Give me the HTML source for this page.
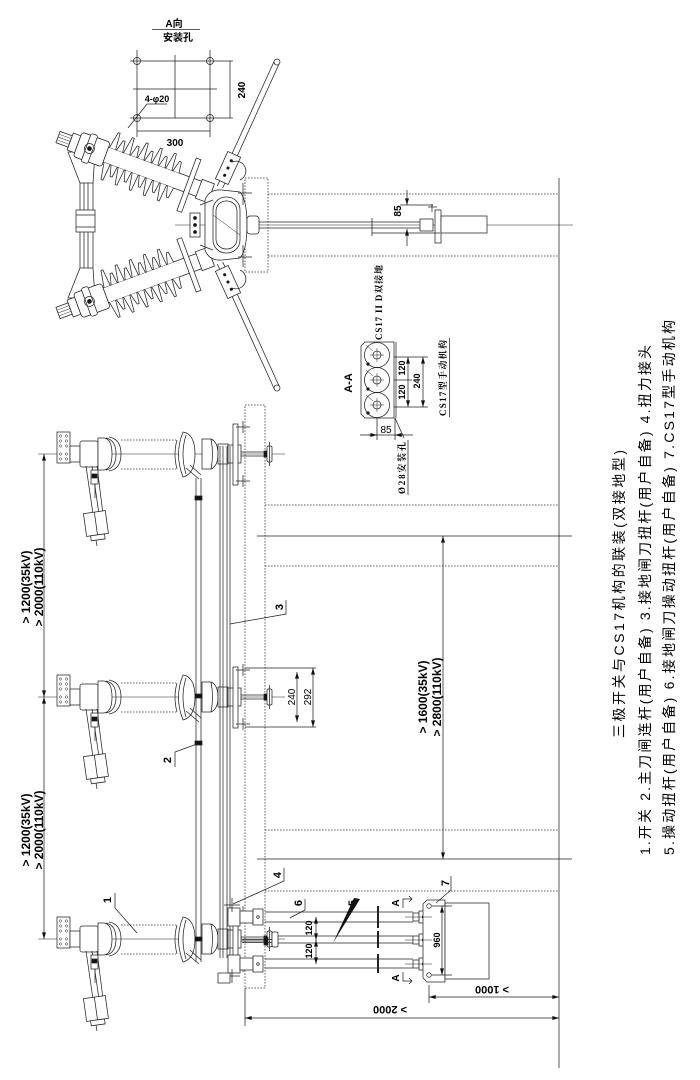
<!DOCTYPE html>
<html><head><meta charset="utf-8">
<style>
html,body{margin:0;padding:0;background:#fff;}
svg{display:block;}
text{font-family:"Liberation Sans","Noto Sans CJK SC",sans-serif;fill:#000;stroke:none;}
.d{stroke-dasharray:1.6 1.4;stroke:#333;}
.f{fill:#fff;}
.k{fill:#111;}
.b{font-weight:bold;}
.sr{font-family:"Liberation Serif","Noto Serif CJK SC",serif;}
</style></head><body>
<svg width="700" height="1080" viewBox="0 0 700 1080" xmlns="http://www.w3.org/2000/svg">
<defs>
<marker id="a" viewBox="0 0 10 6" refX="10" refY="3" markerUnits="userSpaceOnUse" markerWidth="7" markerHeight="4" orient="auto-start-reverse"><path d="M0,0L10,3L0,6z" fill="#111" stroke="none"/></marker>

<g id="pole">
 <line x1="38" y1="0" x2="285" y2="0" stroke-width=".6"/>
 <rect class="f" x="57" y="-22" width="13" height="31"/>
 <g stroke-width=".5">
  <circle cx="60.5" cy="-18" r="1.2"/><circle cx="66.5" cy="-18" r="1.2"/>
  <circle cx="60.5" cy="-13" r="1.2"/><circle cx="66.5" cy="-13" r="1.2"/>
  <circle cx="60.5" cy="-8" r="1.2"/><circle cx="66.5" cy="-8" r="1.2"/>
  <circle cx="60.5" cy="0" r="1.2"/><circle cx="66.5" cy="0" r="1.2"/>
  <circle cx="60.5" cy="5" r="1.2"/><circle cx="66.5" cy="5" r="1.2"/>
 </g>
 <rect class="f" x="70" y="-8" width="10" height="16"/>
 <rect class="f" x="80" y="-13" width="18" height="26" rx="2"/>
 <path class="f" d="M98,-16 L104,-16 Q112,-15 112,0 Q112,15 104,16 L98,16 Z"/>
 <path d="M106,-16 Q116,-14 116,0 Q116,14 106,16"/>
 <path d="M109,-17 Q121,-15 121,0 Q121,15 109,17"/>
 <line class="d" x1="121" y1="-14" x2="176" y2="-14"/>
 <line class="d" x1="121" y1="15" x2="176" y2="15"/>
 <path class="f" d="M183,-22 Q174,0 183,23 Q195,20 195,0 Q195,-20 183,-22 Z"/>
 <path d="M177,-14 Q173,0 177,15"/>
 <path d="M186,-19 Q180,0 186,20"/>
 <path class="f" d="M202,-15 L211,-15 Q218,-12 218,0 Q218,12 211,15 L202,15 Z"/>
 <path d="M211,-15 Q214,0 211,15"/>
 <rect class="f" x="218" y="-10" width="10" height="20"/>
 <rect class="f" x="228" y="-9" width="13" height="18"/>
 <rect class="f" x="233" y="-30" width="5" height="61"/>
 <path d="M236,-27H250M243,-33V-21M236,27H250M243,21V33"/>
 <path d="M241,-2H266M241,2H266"/>
 <rect class="k" x="264" y="-3" width="3" height="6"/>
 <rect class="f" x="267" y="-8" width="5" height="16" rx="1.5"/>
 <path d="M269.5,-12V12"/>
 <path d="M86,12 L93,60 M92,12 L99,60 M97,12 L103,60"/>
 <rect class="f" x="91" y="16" width="7" height="14"/>
 <rect class="k" x="92" y="20" width="5" height="4"/>
 <path d="M95,30 V44"/>
 <g transform="rotate(-8 96 70)"><rect class="f" x="85" y="58" width="22" height="23"/><path d="M96,58V81"/><rect class="f" x="89" y="81" width="14" height="5"/></g>
 <path d="M96,86 L97,92"/>
 <path d="M186,14 L199,25 M190,11 L201,21"/>
</g>

<g id="ins">
 <rect class="f" x="0" y="-6" width="13" height="12"/>
 <path d="M0,-3H13M0,0H13M0,3H13" stroke-width=".5"/>
 <rect class="f" x="13" y="-9" width="8" height="18"/>
 <rect class="f" x="21" y="-13" width="30" height="26" rx="3"/>
 <rect class="f" x="30" y="-15" width="7" height="30" rx="2"/>
 <circle cx="33.5" cy="0" r="5"/>
 <circle class="k" cx="33.5" cy="0" r="2"/>
 <rect class="f" x="51" y="-8" width="112" height="16"/>
 <polyline class="f" points="52,-8 55,-25 57,-25 58.5,-8 59.5,-8 62.5,-19 64.5,-19 66,-8 67,-8 70,-25 72,-25 73.5,-8 74.5,-8 77.5,-19 79.5,-19 81,-8 82,-8 85,-25 87,-25 88.5,-8 89.5,-8 92.5,-19 94.5,-19 96,-8 97,-8 100,-25 102,-25 103.5,-8 104.5,-8 107.5,-19 109.5,-19 111,-8 112,-8 115,-25 117,-25 118.5,-8 119.5,-8 122.5,-19 124.5,-19 126,-8"/>
 <polyline class="f" points="52,8 55,25 57,25 58.5,8 59.5,8 62.5,19 64.5,19 66,8 67,8 70,25 72,25 73.5,8 74.5,8 77.5,19 79.5,19 81,8 82,8 85,25 87,25 88.5,8 89.5,8 92.5,19 94.5,19 96,8 97,8 100,25 102,25 103.5,8 104.5,8 107.5,19 109.5,19 111,8 112,8 115,25 117,25 118.5,8 119.5,8 122.5,19 124.5,19 126,8"/>
 <rect class="f" x="137" y="-28" width="5" height="56"/>
 <rect class="f" x="150" y="-10" width="13" height="20"/>
</g>
</defs>

<g fill="none" stroke="#222" stroke-width="0.75">

<!-- ===== A向 安装孔 ===== -->
<text x="174" y="27" font-size="10" class="b" text-anchor="middle">A向</text>
<line x1="152" y1="29.5" x2="200" y2="29.5"/>
<text x="178" y="41" font-size="10" class="b" text-anchor="middle">安装孔</text>
<path d="M137,50V137M210,50V137M175,55V118M130,61H233M133,89H217M130,118H233M230,61V118M137,131H210"/>
<circle cx="137" cy="61" r="3.5"/><circle cx="210" cy="61" r="3.5"/>
<circle cx="137" cy="118" r="3.5"/><circle cx="210" cy="118" r="3.5"/>
<text transform="translate(245,90) rotate(-90)" font-size="10" class="b" text-anchor="middle">240</text>
<text x="175" y="146" font-size="10" class="b" text-anchor="middle">300</text>
<text x="157" y="102" font-size="9" class="b" text-anchor="middle">4-φ20</text>
<path d="M147,104H167M147,104L128,128"/>

<!-- ===== top view ===== -->
<line x1="175" y1="225" x2="573" y2="225" stroke-width=".6"/>
<rect class="d" x="245" y="178" width="23" height="94"/>
<path class="d" d="M268,194H559M268,256H559"/>

<path d="M84,160V290M88,160V290"/>
<polygon class="f" points="68,152 95,152 93,183 80,183"/>
<path d="M80,183V210M93,183V210M80,232V268M93,232V268"/>
<rect class="f" x="76" y="210" width="19" height="22"/>
<path d="M76,215H95M76,227H95"/>
<polygon class="f" points="80,268 93,268 95,298 68,298"/>

<use href="#ins" transform="translate(58,137) rotate(20.2)"/>
<use href="#ins" transform="translate(58,313) rotate(-20.2)"/>

<path d="M222.7,188 L279.5,63 M217.3,186 L274.3,61"/>
<path d="M222.7,262 L279.5,387 M217.3,264 L274.3,389"/>
<circle class="f" cx="277" cy="62" r="3"/><circle class="f" cx="277" cy="388" r="3"/>
<g transform="rotate(-65.5 228 168)"><rect class="f" x="213" y="161" width="30" height="14"/><circle class="k" cx="220" cy="168" r="1.2"/><circle class="k" cx="228" cy="168" r="1.2"/><circle class="k" cx="236" cy="168" r="1.2"/></g>
<g transform="rotate(65.5 228 282)"><rect class="f" x="213" y="275" width="30" height="14"/><circle class="k" cx="220" cy="282" r="1.2"/><circle class="k" cx="228" cy="282" r="1.2"/><circle class="k" cx="236" cy="282" r="1.2"/></g>
<path d="M232,162 A9,9 0 0 1 240,180"/>
<path d="M232,288 A9,9 0 0 0 240,270"/>

<path class="f" d="M205,200 Q209,189 222,190 L240,192 Q247,200 247,225 Q247,250 240,258 L222,260 Q209,261 205,250 Z"/>
<rect class="f" x="213" y="197" width="27" height="56" rx="13"/>
<rect x="216" y="201" width="21" height="48" rx="10"/>
<path d="M213,215L240,235" stroke-width=".5"/>
<rect class="f" x="190" y="213" width="10" height="24"/>
<circle class="k" cx="195" cy="218" r="1.5"/><circle class="k" cx="195" cy="225" r="1.5"/><circle class="k" cx="195" cy="232" r="1.5"/>
<path d="M200,205L213,200M200,245L213,250"/>
<path d="M243,183V205M243,245V267M238,193H252M238,257H252"/>
<rect class="f" x="247" y="216" width="12" height="18" rx="3"/>
<path d="M259,222H420M259,228H420"/>
<rect class="f" x="420" y="219" width="13" height="12"/>
<rect class="f" x="435" y="210" width="6" height="33"/>
<rect class="f" x="441" y="216" width="46" height="17"/>
<path d="M372,218V236M372,233H440M432,204V212M428,207H437"/>
<path d="M407,190V205" marker-end="url(#a)"/>
<path d="M407,246V229" marker-end="url(#a)"/>
<path d="M400,205H433"/>
<text transform="translate(401,211) rotate(-90)" font-size="10" class="b" text-anchor="middle">85</text>

<!-- ===== A-A section ===== -->
<text transform="translate(352,383) rotate(-90)" font-size="11" class="b" text-anchor="middle">A-A</text>
<path class="f" d="M365,342 H394 V418 H365 L361,414 V346 Z"/>
<circle cx="377" cy="355" r="12.5"/><circle cx="377" cy="380" r="12.5"/><circle cx="377" cy="405" r="12.5"/>
<circle class="f" cx="377" cy="355" r="4"/><circle class="f" cx="377" cy="380" r="4"/><circle class="f" cx="377" cy="405" r="4"/>
<path d="M370,355H384M377,348V362M370,380H384M377,373V387M370,405H384M377,398V412" stroke-width=".5"/>
<circle class="k" cx="368" cy="364" r="1.3"/><circle class="k" cx="368" cy="389" r="1.3"/><circle class="k" cx="368" cy="413" r="1.3"/>
<path d="M366,345L373,351M366,370L373,376M366,395L373,401" stroke-width=".5"/>
<path d="M396,342V418M394,357H428M394,380H412M394,407H428"/>
<path d="M408,380V357" marker-end="url(#a)"/>
<path d="M408,380V407" marker-end="url(#a)"/>
<path d="M423,357V407" marker-start="url(#a)" marker-end="url(#a)"/>
<text transform="translate(405,368) rotate(-90)" font-size="9" class="b" text-anchor="middle">120</text>
<text transform="translate(405,392) rotate(-90)" font-size="9" class="b" text-anchor="middle">120</text>
<text transform="translate(420,381) rotate(-90)" font-size="9" class="b" text-anchor="middle">240</text>
<text class="sr b" transform="translate(446,416) rotate(-90)" font-size="9" textLength="76" lengthAdjust="spacing">CS17型手动机构</text>
<line x1="449.5" y1="338" x2="449.5" y2="417"/>
<text class="sr b" transform="translate(382,340) rotate(-90)" font-size="9" textLength="75" lengthAdjust="spacing">CS17 II D双接地</text>
<path d="M377,418V440M395,418V440M360,435H413"/>
<path d="M368,435H377" marker-end="url(#a)"/>
<path d="M404,435H395" marker-end="url(#a)"/>
<text x="386" y="433" font-size="10" text-anchor="middle">85</text>
<path d="M395,418L404,438"/>
<text class="sr b" transform="translate(405,494) rotate(-90)" font-size="9" textLength="52" lengthAdjust="spacing">Ø28安装孔</text>
<line x1="408" y1="440" x2="408" y2="495"/>

<!-- ===== side view ===== -->
<line x1="559" y1="178" x2="559" y2="1068"/>
<rect class="d" x="245" y="405" width="20" height="583"/>
<path class="d" d="M265,505H559M265,566H559M265,830H559M265,891H559"/>
<path d="M257,536H572M257,859H572"/>

<use href="#pole" transform="translate(0,454)"/>
<use href="#pole" transform="translate(0,697)"/>
<use href="#pole" transform="translate(0,939)"/>

<path d="M196,478V962M201,478V962"/>
<rect class="k" x="195" y="496" width="7" height="4"/>
<rect class="k" x="195" y="694" width="7" height="4"/>
<rect class="k" x="195" y="741" width="7" height="4"/>
<rect class="k" x="195" y="937" width="7" height="4"/>
<path d="M220,446V958M223,446V958M227,446V958M230,446V958"/>

<path d="M44,454V697" marker-start="url(#a)" marker-end="url(#a)"/>
<path d="M44,697V939" marker-start="url(#a)" marker-end="url(#a)"/>
<text transform="translate(30,587) rotate(-90)" font-size="12" class="b" text-anchor="middle">&gt; 1200(35kV)</text>
<text transform="translate(43,587) rotate(-90)" font-size="12" class="b" text-anchor="middle">&gt; 2000(110kV)</text>
<text transform="translate(30,830) rotate(-90)" font-size="12" class="b" text-anchor="middle">&gt; 1200(35kV)</text>
<text transform="translate(43,830) rotate(-90)" font-size="12" class="b" text-anchor="middle">&gt; 2000(110kV)</text>

<path d="M245,668H316M245,727H316"/>
<path d="M297,672V722" marker-start="url(#a)" marker-end="url(#a)"/>
<path d="M313,668V727" marker-start="url(#a)" marker-end="url(#a)"/>
<text transform="translate(295,697) rotate(-90)" font-size="10" text-anchor="middle">240</text>
<text transform="translate(311,697) rotate(-90)" font-size="10" text-anchor="middle">292</text>

<path d="M443,536V859" marker-start="url(#a)" marker-end="url(#a)"/>
<text transform="translate(427,697) rotate(-90)" font-size="12" class="b" text-anchor="middle">&gt; 1600(35kV)</text>
<text transform="translate(441,697) rotate(-90)" font-size="12" class="b" text-anchor="middle">&gt; 2800(110kV)</text>

<rect class="f" x="228" y="908" width="12" height="18"/>
<rect class="f" x="228" y="955" width="12" height="18"/>
<path d="M224,905H240M232,898V912M224,976H240M232,969V983"/>
<rect class="f" x="218" y="973" width="12" height="10"/>
<path d="M265,912H413M265,922H413"/>
<path d="M278,936H413M278,943H413"/>
<path d="M265,959H413M265,968H413"/>
<path d="M378,906V928M378,931V948M378,954V973" stroke-width="2"/>
<rect class="f" x="240" y="911" width="13" height="12"/>
<rect class="f" x="253" y="909" width="10" height="16"/><circle cx="258" cy="917" r="1.3"/>
<rect class="f" x="240" y="958" width="13" height="12"/>
<rect class="f" x="253" y="956" width="10" height="16"/><circle cx="258" cy="964" r="1.3"/>
<path d="M242,939.5H272M242,942.5H272"/>
<rect class="k" x="264" y="937" width="4" height="8"/>
<rect class="f" x="272" y="932" width="6" height="15" rx="1.5"/>
<rect class="f" x="413" y="913" width="6" height="8"/><rect class="f" x="419" y="911" width="9" height="12"/><circle class="k" cx="423.5" cy="917" r="1.2"/>
<rect class="f" x="413" y="936" width="6" height="8"/><rect class="f" x="419" y="934" width="9" height="12"/><circle class="k" cx="423.5" cy="940" r="1.2"/>
<rect class="f" x="413" y="960" width="6" height="8"/><rect class="f" x="419" y="958" width="9" height="12"/><circle class="k" cx="423.5" cy="964" r="1.2"/>
<path class="f" d="M427,900H445V982H427L423,978V904Z"/>
<path d="M405,917H432M405,940H432M405,964H432" stroke-width=".6"/>
<circle cx="429" cy="906" r="2.3"/><circle cx="429" cy="975" r="2.3"/>
<rect class="f" x="445" y="903" width="44" height="76"/>
<path d="M432,906H452M432,975H452"/>
<path d="M442,906V975" marker-start="url(#a)" marker-end="url(#a)"/>
<text transform="translate(440,940) rotate(-90)" font-size="9" class="b" text-anchor="middle">960</text>
<path d="M316,917V940" marker-start="url(#a)" marker-end="url(#a)"/>
<path d="M316,940V964" marker-start="url(#a)" marker-end="url(#a)"/>
<text transform="translate(312,928) rotate(-90)" font-size="9" class="b" text-anchor="middle">120</text>
<text transform="translate(312,951) rotate(-90)" font-size="9" class="b" text-anchor="middle">120</text>
<text transform="translate(399,903) rotate(-90)" font-size="10" class="b" text-anchor="middle">A</text>
<text transform="translate(399,978) rotate(-90)" font-size="10" class="b" text-anchor="middle">A</text>
<path d="M403,908V899H412M409,896L412,899L409,902"/>
<path d="M403,972V981H412M409,978L412,981L409,984"/>

<path d="M245,988V1026M429,985V1003"/>
<path d="M245,1018H559" marker-start="url(#a)" marker-end="url(#a)"/>
<path d="M429,997H559" marker-start="url(#a)" marker-end="url(#a)"/>
<text transform="translate(390,1006) rotate(180)" font-size="11" class="b" text-anchor="middle">&gt; 2000</text>
<text transform="translate(492,986) rotate(180)" font-size="11" class="b" text-anchor="middle">&gt; 1000</text>

<text transform="translate(111,900) rotate(-90)" font-size="11" class="b" text-anchor="middle">1</text>
<path d="M115,893V908L137,933"/>
<text transform="translate(171,760) rotate(-90)" font-size="11" class="b" text-anchor="middle">2</text>
<path d="M175,767V752L197,744"/>
<text transform="translate(283,607) rotate(-90)" font-size="11" class="b" text-anchor="middle">3</text>
<path d="M286,600V614L230,624"/>
<text transform="translate(281,875) rotate(-90)" font-size="11" class="b" text-anchor="middle">4</text>
<path d="M284,868V881L233,904"/>
<text transform="translate(356,903) rotate(-90)" font-size="11" class="b" text-anchor="middle">5</text>
<polygon class="k" stroke="none" points="354,898 360,899 333,943"/>
<text transform="translate(302,903) rotate(-90)" font-size="11" class="b" text-anchor="middle">6</text>
<path d="M305,899V910L290,918"/>
<text transform="translate(449,883) rotate(-90)" font-size="11" class="b" text-anchor="middle">7</text>
<path d="M451,876V890L436,903"/>

<text transform="translate(624,738) rotate(-90)" font-size="14" textLength="288" lengthAdjust="spacing">三极开关与CS17机构的联装(双接地型)</text>
<text transform="translate(650,855) rotate(-90)" font-size="14" textLength="510" lengthAdjust="spacing">1.开关 2.主刀闸连杆(用户自备) 3.接地闸刀扭杆(用户自备) 4.扭力接头</text>
<text transform="translate(674,855) rotate(-90)" font-size="14" textLength="535" lengthAdjust="spacing">5.操动扭杆(用户自备)  6.接地闸刀操动扭杆(用户自备)  7.CS17型手动机构</text>
</g>
</svg>
</body></html>
